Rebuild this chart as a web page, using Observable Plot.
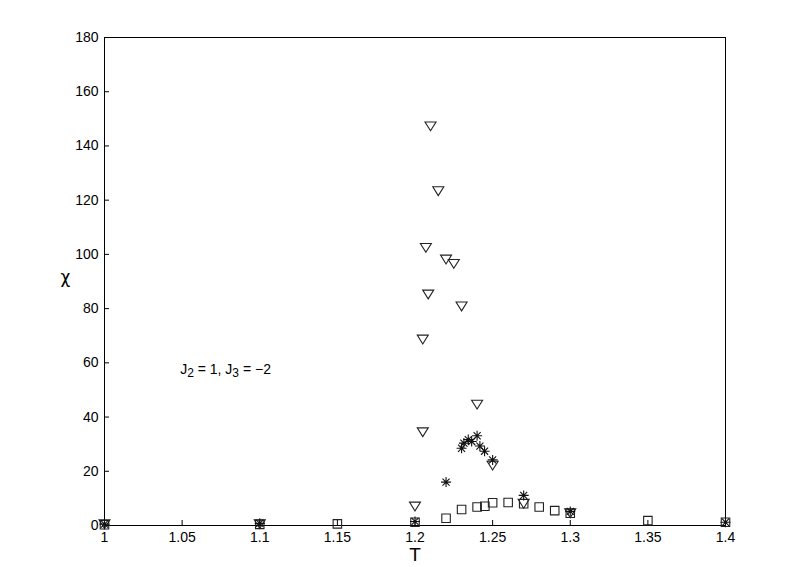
<!DOCTYPE html>
<html><head><meta charset="utf-8">
<script src="https://cdn.jsdelivr.net/npm/d3@7"></script>
<script src="https://cdn.jsdelivr.net/npm/@observablehq/plot@0.6"></script>
<style>body{margin:0;background:#fff}</style>
</head><body><div id="chart"></div>
<script>
// Data (T, chi)
const triT   = [1.0, 1.1, 1.2, 1.205, 1.205, 1.207, 1.2085, 1.21, 1.215, 1.22, 1.225, 1.23, 1.24, 1.25, 1.27, 1.3];
const triChi = [0.5, 0.5, 7.0, 34.4, 68.6, 102.4, 85.2, 147.2, 123.3, 98.1, 96.5, 80.8, 44.6, 22.1, 8.0, 4.5];
const starT   = [1.0, 1.1, 1.2, 1.22, 1.23, 1.2315, 1.2343, 1.2365, 1.24, 1.2418, 1.2448, 1.25, 1.27, 1.3, 1.4];
const starChi = [0.5, 0.8, 1.5, 16.0, 28.5, 30.4, 31.7, 31.0, 33.1, 29.3, 27.4, 24.2, 11.1, 5.2, 1.2];
const sqT   = [1.0, 1.1, 1.15, 1.2, 1.22, 1.23, 1.24, 1.245, 1.25, 1.26, 1.27, 1.28, 1.29, 1.3, 1.35, 1.4];
const sqChi = [0.3, 0.4, 0.6, 1.2, 2.7, 5.9, 6.8, 7.1, 8.4, 8.5, 8.0, 6.8, 5.5, 4.5, 1.8, 1.2];
const xTicks = [1, 1.05, 1.1, 1.15, 1.2, 1.25, 1.3, 1.35, 1.4];
const yTicks = [0, 20, 40, 60, 80, 100, 120, 140, 160, 180];
const xLabel = "T", yLabel = "χ";
const annT = 1.0783, annChi = 57.2;

const tri = triT.map((t, i) => ({T: t, chi: triChi[i]}));
const star = starT.map((t, i) => ({T: t, chi: starChi[i]}));
const sq = sqT.map((t, i) => ({T: t, chi: sqChi[i]}));

const triDown = {draw(ctx, size) {
  const r = Math.sqrt(size / Math.PI);
  ctx.moveTo(-r, -0.8 * r); ctx.lineTo(r, -0.8 * r); ctx.lineTo(0, 0.8 * r); ctx.closePath();
}};
const squareSym = {draw(ctx, size) {
  const r = Math.sqrt(size / Math.PI) * 0.85;
  ctx.moveTo(-r, -r); ctx.lineTo(r, -r); ctx.lineTo(r, r); ctx.lineTo(-r, r); ctx.closePath();
}};
const asterisk = {draw(ctx, size) {
  const r = Math.sqrt(size / Math.PI), d = r * 0.7071;
  ctx.moveTo(-r, 0); ctx.lineTo(r, 0);
  ctx.moveTo(0, -r); ctx.lineTo(0, r);
  ctx.moveTo(-d, -d); ctx.lineTo(d, d);
  ctx.moveTo(-d, d); ctx.lineTo(d, -d);
}};

const font = "'Liberation Sans', Arial, Helvetica, sans-serif";
const plot = Plot.plot({
  width: 806, height: 567,
  marginLeft: 104, marginRight: 81, marginTop: 37, marginBottom: 42,
  style: {fontFamily: font, fontSize: "14px", background: "white", color: "black"},
  x: {domain: [1, 1.4]},
  y: {domain: [0, 180]},
  marks: [
    Plot.axisX({ticks: xTicks, tickSize: -5, tickPadding: 12, tickFormat: d => String(+d.toFixed(2)), label: null, stroke: "black"}),
    Plot.axisY({ticks: yTicks, tickSize: -5, tickPadding: 11, label: null, stroke: "black"}),
    Plot.frame({stroke: "black", strokeWidth: 1}),
    Plot.dot(sq, {x: "T", y: "chi", symbol: squareSym, r: 5, stroke: "#222", strokeWidth: 1.1, fill: "none"}),
    Plot.dot(tri, {x: "T", y: "chi", symbol: triDown, r: 5.5, stroke: "#222", strokeWidth: 1.1, fill: "none"}),
    Plot.dot(star, {x: "T", y: "chi", symbol: asterisk, r: 5, stroke: "#111", strokeWidth: 1.1, fill: "none"}),
    Plot.text([xLabel], {frameAnchor: "bottom", lineAnchor: "middle", dy: 29, fontSize: 19, fill: "black"}),
    Plot.text([yLabel], {frameAnchor: "left", lineAnchor: "middle", dx: -44, dy: -4, fontSize: 17, fontFamily: "'DejaVu Sans', sans-serif", fill: "black"})
  ]
});

const svg = d3.select(plot);
const tx = svg.append("text")
  .attr("x", plot.scale("x").apply(annT))
  .attr("y", plot.scale("y").apply(annChi))
  .attr("text-anchor", "middle").attr("dominant-baseline", "middle")
  .attr("font-family", font).attr("font-size", 14).attr("fill", "black");
tx.append("tspan").text("J");
tx.append("tspan").attr("dy", 4).attr("font-size", 12).text("2");
tx.append("tspan").attr("dy", -4).text(" = 1, J");
tx.append("tspan").attr("dy", 4).attr("font-size", 12).text("3");
tx.append("tspan").attr("dy", -4).text(" = −2");

document.getElementById("chart").appendChild(plot);
</script>
</body></html>
